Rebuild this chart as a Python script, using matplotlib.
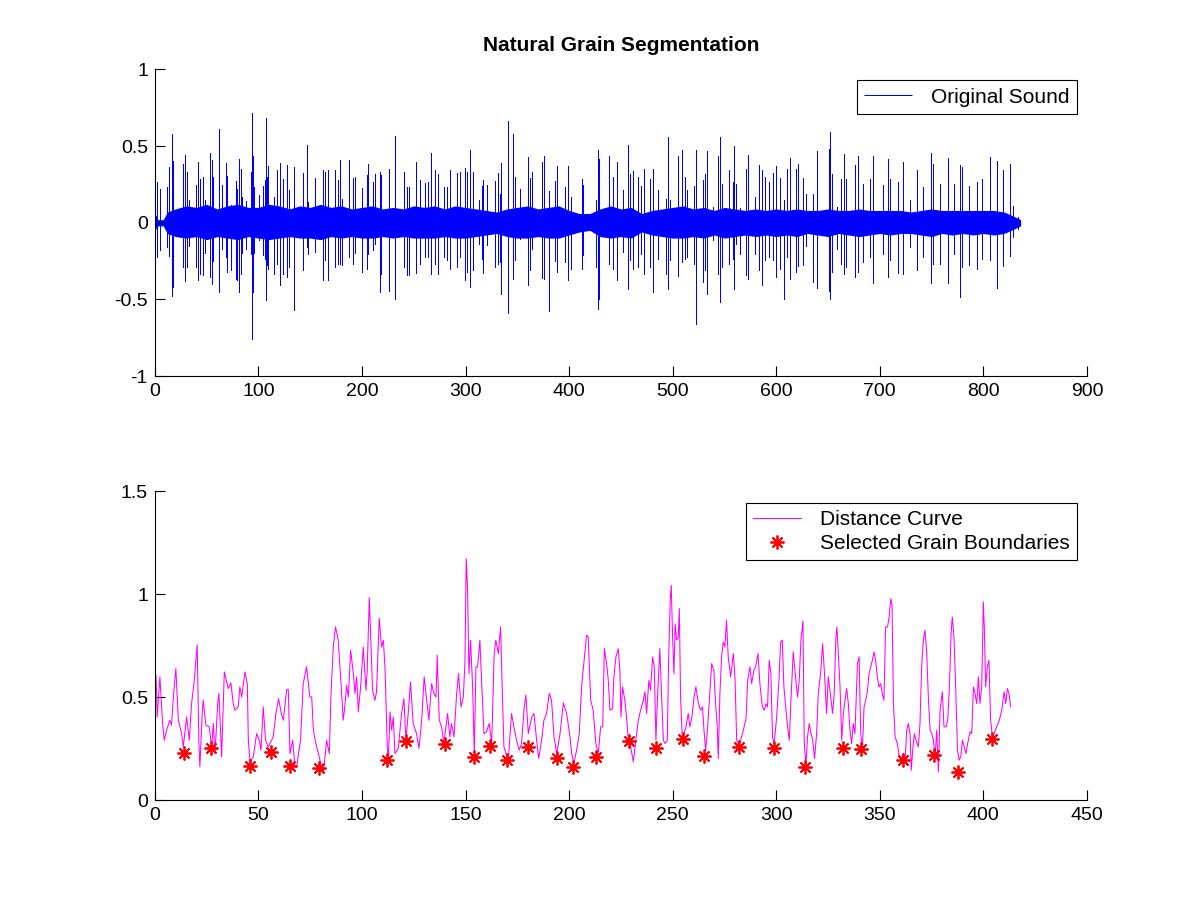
import matplotlib
matplotlib.use("Agg")
import matplotlib.pyplot as plt

plt.rcParams['font.family'] = ['Liberation Sans', 'DejaVu Sans']
plt.rcParams['font.size'] = 14

band_x = [0, 3, 8, 12, 20, 30, 40, 50, 60, 70, 80, 90, 100, 110, 120, 130, 140,
          150, 160, 170, 180, 190, 200, 210, 220, 230, 240, 250, 260, 270, 280,
          290, 300, 310, 320, 330, 340, 350, 360, 370, 380, 390, 400, 410, 420,
          430, 440, 450, 460, 470, 480, 490, 500, 510, 520, 530, 540, 550, 560,
          570, 580, 590, 600, 610, 620, 630, 640, 650, 660, 670, 680, 690, 700,
          710, 720, 730, 740, 750, 760, 770, 780, 790, 800, 810, 820, 830, 836]
band_hi = [0.06, 0.02, 0.02, 0.07, 0.09, 0.11, 0.10, 0.12, 0.09, 0.11, 0.12,
           0.10, 0.10, 0.12, 0.11, 0.09, 0.11, 0.10, 0.12, 0.10, 0.11, 0.09,
           0.10, 0.11, 0.09, 0.10, 0.09, 0.11, 0.10, 0.11, 0.09, 0.11, 0.10,
           0.09, 0.08, 0.07, 0.09, 0.10, 0.11, 0.09, 0.10, 0.11, 0.08, 0.06,
           0.06, 0.09, 0.11, 0.09, 0.10, 0.06, 0.08, 0.09, 0.10, 0.11, 0.09,
           0.10, 0.08, 0.10, 0.09, 0.08, 0.09, 0.08, 0.09, 0.08, 0.09, 0.08,
           0.08, 0.09, 0.08, 0.08, 0.09, 0.08, 0.08, 0.08, 0.08, 0.07, 0.08,
           0.09, 0.08, 0.08, 0.08, 0.08, 0.08, 0.08, 0.07, 0.04, 0.02]
band_lo = [-0.05, -0.02, -0.02, -0.07, -0.09, -0.10, -0.09, -0.11, -0.09,
           -0.10, -0.11, -0.09, -0.10, -0.11, -0.10, -0.09, -0.10, -0.10,
           -0.11, -0.09, -0.10, -0.09, -0.10, -0.10, -0.09, -0.10, -0.09,
           -0.10, -0.10, -0.10, -0.09, -0.10, -0.10, -0.09, -0.08, -0.07,
           -0.09, -0.10, -0.10, -0.09, -0.10, -0.10, -0.08, -0.06, -0.05,
           -0.09, -0.10, -0.09, -0.10, -0.06, -0.08, -0.09, -0.10, -0.10,
           -0.09, -0.10, -0.08, -0.10, -0.09, -0.08, -0.09, -0.08, -0.09,
           -0.08, -0.09, -0.07, -0.08, -0.09, -0.07, -0.08, -0.09, -0.08,
           -0.07, -0.08, -0.07, -0.07, -0.08, -0.09, -0.07, -0.08, -0.07,
           -0.08, -0.07, -0.08, -0.07, -0.04, -0.02]

spike_x = [1.6, 4.8, 11.9, 13.8, 16.7, 17.7, 27.4, 29.3, 31.2, 33.1, 39.6, 41.8,
           43.4, 46.0, 48.3, 53.1, 55.0, 56.3, 62.1, 64.4, 68.2, 69.8, 73.4,
           77.9, 79.5, 81.1, 82.7, 83.7, 87.5, 92.4, 94.0, 95.0, 95.9, 100.7,
           104.6, 106.2, 107.5, 108.5, 109.4, 114.9, 118.1, 121.0, 123.9, 127.1,
           129.7, 134.2, 142.6, 146.4, 148.0, 154.2, 162.5, 164.1, 167.4, 174.1,
           177.0, 178.6, 180.9, 187.6, 190.9, 192.8, 199.9, 204.4, 206.0, 210.2,
           212.4, 217.2, 218.5, 225.6, 232.0, 240.4, 243.0, 245.6, 252.3, 255.9,
           260.4, 263.9, 266.2, 270.4, 273.6, 279.0, 281.6, 284.9, 291.9, 294.5,
           299.3, 301.0, 304.2, 307.4, 313.2, 315.4, 317.0, 320.3, 328.3, 331.5,
           333.1, 334.4, 341.2, 346.0, 347.6, 352.4, 360.5, 362.1, 363.7, 373.4,
           375.6, 380.8, 386.2, 388.5, 395.9, 399.1, 401.4, 412.0, 413.6, 425.8,
           428.1, 429.0, 438.7, 442.6, 445.8, 452.2, 457.0, 458.7, 461.9, 466.7,
           469.3, 472.2, 478.0, 481.2, 485.4, 493.1, 495.0, 497.3, 505.3, 509.2,
           511.8, 513.4, 520.4, 522.7, 528.8, 531.1, 532.7, 538.5, 544.0, 545.6,
           547.2, 554.6, 557.8, 559.1, 561.6, 564.9, 570.7, 572.9, 579.3, 583.5,
           586.4, 589.0, 593.2, 597.0, 599.6, 604.1, 607.7, 610.6, 613.5, 618.9,
           621.2, 626.0, 629.2, 635.7, 639.8, 650.5, 652.1, 653.4, 658.2, 663.0,
           665.6, 667.8, 676.5, 679.4, 683.9, 690.4, 693.6, 703.3, 708.1, 709.7,
           717.7, 722.2, 729.0, 736.1, 741.9, 749.9, 751.5, 758.0, 766.0, 771.5,
           777.3, 778.9, 786.3, 793.4, 798.9, 806.2, 812.7, 819.1, 826.2, 828.8,
           833.6]
spike_hi = [0.266, 0.223, 0.233, 0.364, 0.581, 0.400, 0.385, 0.440, 0.331, 0.150,
            0.244, 0.396, 0.283, 0.298, 0.147, 0.455, 0.407, 0.298, 0.609, 0.244,
            0.390, 0.303, 0.114, 0.270, 0.223, 0.414, 0.353, 0.168, 0.142, 0.331,
            0.715, 0.433, 0.233, 0.179, 0.238, 0.277, 0.683, 0.299, 0.368, 0.168,
            0.342, 0.390, 0.288, 0.375, 0.212, 0.364, 0.325, 0.505, 0.136, 0.292,
            0.342, 0.331, 0.342, 0.342, 0.281, 0.407, 0.158, 0.407, 0.294, 0.299,
            0.229, 0.309, 0.385, 0.266, 0.320, 0.331, 0.309, 0.353, 0.563, 0.331,
            0.233, 0.233, 0.394, 0.277, 0.259, 0.266, 0.457, 0.342, 0.320, 0.233,
            0.233, 0.346, 0.325, 0.331, 0.359, 0.331, 0.472, 0.331, 0.147, 0.238,
            0.281, 0.244, 0.272, 0.325, 0.190, 0.390, 0.663, 0.577, 0.299, 0.223,
            0.429, 0.294, 0.331, 0.396, 0.435, 0.207, 0.270, 0.368, 0.233, 0.368,
            0.168, 0.288, 0.244, 0.147, 0.472, 0.418, 0.433, 0.299, 0.396, 0.216,
            0.505, 0.320, 0.338, 0.299, 0.238, 0.353, 0.288, 0.348, 0.216, 0.157,
            0.559, 0.147, 0.433, 0.477, 0.299, 0.212, 0.240, 0.472, 0.281, 0.320,
            0.468, 0.103, 0.433, 0.559, 0.255, 0.346, 0.266, 0.498, 0.255, 0.099,
            0.353, 0.440, 0.168, 0.375, 0.346, 0.299, 0.266, 0.325, 0.368, 0.294,
            0.147, 0.353, 0.422, 0.353, 0.385, 0.292, 0.190, 0.190, 0.466, 0.479,
            0.592, 0.316, 0.103, 0.288, 0.446, 0.288, 0.375, 0.433, 0.255, 0.288,
            0.433, 0.244, 0.418, 0.288, 0.266, 0.396, 0.147, 0.346, 0.233, 0.455,
            0.385, 0.255, 0.424, 0.255, 0.375, 0.364, 0.238, 0.266, 0.288, 0.429,
            0.400, 0.342, 0.381, 0.107, 0.038]
spike_lo = [-0.222, -0.179, -0.157, -0.218, -0.479, -0.418, -0.288, -0.381,
            -0.288, -0.153, -0.288, -0.375, -0.336, -0.342, -0.200, -0.353,
            -0.396, -0.250, -0.451, -0.168, -0.222, -0.320, -0.309, -0.364,
            -0.370, -0.451, -0.331, -0.200, -0.168, -0.201, -0.757, -0.451,
            -0.200, -0.114, -0.212, -0.233, -0.505, -0.277, -0.299, -0.331,
            -0.266, -0.407, -0.331, -0.353, -0.288, -0.570, -0.309, -0.157,
            -0.201, -0.190, -0.375, -0.244, -0.375, -0.288, -0.266, -0.266,
            -0.277, -0.222, -0.266, -0.200, -0.320, -0.299, -0.201, -0.179,
            -0.136, -0.451, -0.331, -0.446, -0.496, -0.288, -0.342, -0.342,
            -0.327, -0.266, -0.222, -0.222, -0.331, -0.266, -0.331, -0.222,
            -0.244, -0.299, -0.288, -0.222, -0.375, -0.320, -0.418, -0.309,
            -0.136, -0.233, -0.327, -0.147, -0.288, -0.266, -0.255, -0.462,
            -0.587, -0.368, -0.244, -0.103, -0.403, -0.309, -0.168, -0.359,
            -0.364, -0.574, -0.251, -0.320, -0.255, -0.375, -0.299, -0.299,
            -0.212, -0.288, -0.564, -0.500, -0.266, -0.299, -0.375, -0.190,
            -0.431, -0.244, -0.299, -0.288, -0.201, -0.331, -0.288, -0.451,
            -0.233, -0.331, -0.429, -0.244, -0.349, -0.255, -0.233, -0.222,
            -0.266, -0.663, -0.385, -0.309, -0.462, -0.114, -0.331, -0.516,
            -0.288, -0.266, -0.233, -0.429, -0.136, -0.201, -0.342, -0.364,
            -0.201, -0.309, -0.403, -0.244, -0.222, -0.240, -0.353, -0.299,
            -0.496, -0.222, -0.364, -0.320, -0.283, -0.277, -0.153, -0.385,
            -0.425, -0.444, -0.496, -0.320, -0.168, -0.266, -0.331, -0.288,
            -0.353, -0.320, -0.255, -0.222, -0.392, -0.201, -0.353, -0.244,
            -0.327, -0.331, -0.157, -0.305, -0.222, -0.392, -0.266, -0.266,
            -0.392, -0.201, -0.483, -0.288, -0.277, -0.299, -0.233, -0.244,
            -0.425, -0.281, -0.214, -0.092, -0.038]

# ---- bottom: distance curve and selected grain boundaries ----
dist_x = [0.0, 0.5, 1.1, 2.4, 3.7, 4.5, 5.6, 7.2, 8.0, 8.9, 10.1, 11.3, 12.9,
          13.7, 15.3, 16.6, 17.7, 19.0, 20.4, 21.2, 21.7, 22.9, 23.3, 24.6, 26.2,
          27.4, 28.2, 29.0, 30.3, 30.9, 32.2, 33.5, 35.4, 36.7, 37.8, 38.6, 40.2,
          41.0, 41.9, 43.5, 44.6, 45.1, 45.9, 47.5, 49.1, 50.4, 51.2, 52.3, 53.4,
          54.7, 57.1, 58.4, 59.7, 61.2, 62.0, 63.6, 64.4, 65.2, 66.5, 67.6, 68.4,
          70.3, 71.6, 73.2, 74.8, 75.7, 76.5, 77.7, 78.9, 81.3, 82.1, 82.9, 84.2,
          85.0, 86.1, 87.2, 88.5, 89.6, 90.9, 91.4, 92.6, 93.4, 94.5, 95.8, 96.6,
          97.4, 98.2, 99.3, 100.6, 101.9, 102.5, 103.5, 104.3, 105.1, 106.2,
          107.0, 108.3,
          109.4, 110.3, 111.1, 111.5, 112.2, 112.7, 113.5, 114.3, 115.1, 115.9,
          117.5, 119.1, 120.2, 121.2, 122.3, 123.4, 124.7, 126.3, 127.5, 128.8,
          130.0, 131.2, 132.3, 133.6, 134.7, 135.7, 136.3, 137.3, 138.4, 139.5,
          140.5, 141.3, 142.4, 143.2, 144.4, 145.7, 146.6, 147.8, 148.9, 149.7,
          150.3, 151.0, 151.6, 152.4, 153.4, 154.2, 155.0, 155.8, 156.9, 157.7,
          158.9, 160.1, 161.4, 162.6, 163.8, 164.6, 165.8, 166.9, 167.4, 168.5,
          169.5, 170.6, 172.2, 173.3, 174.6, 175.9, 177.0, 178.2, 179.1, 180.3,
          181.9, 183.0, 184.3, 185.3, 186.7, 187.8, 189.1, 190.4, 191.5, 192.7,
          194.0, 195.6, 197.2, 198.8, 200.4, 201.2, 202.3, 203.6, 204.9, 206.0,
          207.1, 208.4, 209.2, 210.4, 211.6, 212.9, 214.1, 215.2, 216.2, 217.0,
          218.1, 218.9,
          219.7, 221.0, 221.6, 222.6, 223.7, 224.5, 225.0, 225.8, 226.9, 227.7,
          228.6, 229.7, 231.0, 232.2, 233.4, 234.5, 235.8, 236.6, 237.4, 238.5,
          239.3, 240.3, 241.1, 241.9, 242.6, 243.8, 244.6, 245.5, 246.3, 247.4,
          248.0, 248.8, 249.3, 249.9, 250.6, 251.2, 251.9, 252.7, 253.2, 253.8,
          254.6, 255.4, 256.4, 257.5, 258.3, 259.3, 260.3, 261.2, 262.4, 263.5,
          264.4, 265.1, 265.9, 266.9, 268.0, 268.8, 269.9, 270.7, 271.5, 272.0,
          272.8, 273.6, 274.4, 275.2, 276.0, 276.8, 278.0, 279.3, 280.1, 280.9,
          281.7, 282.8, 284.1, 285.4, 286.2, 287.3, 288.1, 289.2, 290.0, 291.2,
          292.1, 293.3, 294.2, 295.0, 295.8, 296.6, 297.4, 298.2, 299.0, 300.2,
          301.3, 302.1, 302.9, 303.7, 304.7, 305.5, 306.3, 307.1, 308.2, 309.3,
          310.3, 311.1, 311.9, 312.9, 313.5, 314.3, 315.1, 315.9, 316.8, 317.6,
          318.5, 319.5, 320.3, 321.4, 322.4, 323.2, 324.3, 325.1, 326.3, 327.2,
          328.0, 328.8, 329.3,
          330.8, 331.6, 332.4, 333.2, 334.0, 334.8, 335.6, 336.4, 337.2, 338.0,
          339.2, 340.0, 340.8, 341.6, 342.4, 343.2, 344.0, 344.8, 345.6, 346.4,
          347.2, 348.0, 348.8, 349.6, 350.4, 351.2, 352.0, 352.8, 353.7, 354.5,
          355.3, 355.9, 356.6, 357.4, 358.5, 359.4, 360.3, 361.4, 362.2, 363.0,
          363.8, 364.6, 365.2, 366.0, 366.7, 367.5, 368.6, 369.4, 370.2, 371.0,
          371.8, 372.6, 373.5, 374.3, 375.1, 375.9, 376.7, 377.5, 378.3, 379.1,
          380.2, 381.0, 382.0, 382.8, 383.6, 384.4, 385.0, 385.8, 386.6, 387.5,
          388.3, 389.1, 389.9, 390.7, 391.6, 392.4, 393.6, 394.4, 395.2, 396.0,
          396.8, 397.6, 398.4, 399.2, 400.0, 400.5, 401.1, 401.9, 402.7, 403.5,
          404.4, 405.2, 406.4, 407.7, 408.9, 410.0, 410.8, 411.6, 412.4, 413.2]
dist_y = [0.44, 0.607, 0.404, 0.599, 0.372, 0.291, 0.340, 0.388, 0.364, 0.501,
          0.639, 0.388, 0.323, 0.259, 0.404, 0.291, 0.469, 0.582, 0.755, 0.291,
          0.162, 0.437, 0.485, 0.364, 0.356, 0.259, 0.372, 0.226, 0.469, 0.518,
          0.210, 0.623, 0.542, 0.569, 0.469, 0.437, 0.453, 0.550, 0.501, 0.623,
          0.566, 0.291, 0.186, 0.210, 0.323, 0.291, 0.243, 0.453, 0.291, 0.259,
          0.307, 0.421, 0.493, 0.412, 0.388, 0.537, 0.537, 0.226, 0.291, 0.162,
          0.162, 0.291, 0.566, 0.647, 0.501, 0.501, 0.340, 0.275, 0.226, 0.129,
          0.210, 0.291, 0.226, 0.510, 0.744, 0.841, 0.777, 0.607, 0.388, 0.429,
          0.558, 0.501, 0.728, 0.615, 0.518, 0.599, 0.429, 0.550, 0.744, 0.534,
          0.631, 0.984, 0.760, 0.534, 0.485, 0.526, 0.885,
          0.744, 0.777, 0.639, 0.501, 0.259, 0.194, 0.429, 0.340, 0.404, 0.226,
          0.251, 0.421, 0.493, 0.291, 0.421, 0.574, 0.372, 0.323, 0.251, 0.388,
          0.599, 0.485, 0.388, 0.566, 0.518, 0.501, 0.704, 0.388, 0.356, 0.275,
          0.356, 0.421, 0.307, 0.372, 0.307, 0.518, 0.615, 0.453, 0.501, 0.671,
          1.173, 1.011, 0.615, 0.777, 0.550, 0.226, 0.647, 0.647, 0.777, 0.582,
          0.323, 0.332, 0.372, 0.275, 0.712, 0.777, 0.712, 0.841, 0.647, 0.259,
          0.226, 0.194, 0.421, 0.356, 0.291, 0.243, 0.275, 0.437, 0.510, 0.323,
          0.404, 0.421, 0.291, 0.202, 0.291, 0.388, 0.421, 0.518, 0.485, 0.307,
          0.226, 0.323, 0.472, 0.421, 0.307, 0.226, 0.178, 0.243, 0.323, 0.550,
          0.663, 0.801, 0.793, 0.485, 0.437, 0.275, 0.226, 0.356, 0.356, 0.736,
          0.663, 0.582,
          0.437, 0.445, 0.599, 0.696, 0.736, 0.631, 0.404, 0.550, 0.485, 0.404,
          0.291, 0.259, 0.186, 0.291, 0.388, 0.437, 0.485, 0.526, 0.421, 0.582,
          0.534, 0.696, 0.647, 0.291, 0.485, 0.736, 0.518, 0.291, 0.275, 0.291,
          0.663, 0.971, 1.044, 0.809, 0.615, 0.857, 0.777, 0.793, 0.930, 0.501,
          0.307, 0.323, 0.356, 0.421, 0.356, 0.404, 0.501, 0.550, 0.469, 0.437,
          0.453, 0.340, 0.243, 0.356, 0.534, 0.663, 0.631, 0.469, 0.356, 0.202,
          0.518, 0.696, 0.768, 0.744, 0.874, 0.696, 0.599, 0.712, 0.590, 0.291,
          0.275, 0.291, 0.340, 0.396, 0.582, 0.647, 0.566, 0.631, 0.647, 0.712,
          0.566, 0.453, 0.437, 0.469, 0.453, 0.679, 0.615, 0.307, 0.275, 0.404,
          0.582, 0.768, 0.777, 0.550, 0.437, 0.356, 0.291, 0.485, 0.720, 0.599,
          0.501, 0.582, 0.777, 0.870, 0.291, 0.162, 0.307, 0.372, 0.323, 0.291,
          0.202, 0.323, 0.518, 0.615, 0.760, 0.631, 0.421, 0.599, 0.501, 0.421,
          0.518, 0.793, 0.841,
          0.550, 0.291, 0.421, 0.485, 0.542, 0.469, 0.340, 0.275, 0.372, 0.323,
          0.663, 0.696, 0.323, 0.243, 0.453, 0.485, 0.526, 0.615, 0.647, 0.679,
          0.720, 0.679, 0.599, 0.550, 0.566, 0.518, 0.485, 0.841, 0.841, 0.890,
          0.979, 0.946, 0.469, 0.307, 0.275, 0.210, 0.194, 0.226, 0.194, 0.340,
          0.372, 0.323, 0.145, 0.259, 0.323, 0.291, 0.259, 0.372, 0.647, 0.777,
          0.825, 0.728, 0.485, 0.340, 0.323, 0.291, 0.210, 0.340, 0.137, 0.437,
          0.526, 0.356, 0.356, 0.388, 0.550, 0.809, 0.890, 0.793, 0.566, 0.243,
          0.194, 0.210, 0.291, 0.259, 0.226, 0.275, 0.332, 0.323, 0.550, 0.518,
          0.469, 0.599, 0.469, 0.550, 0.963, 0.825, 0.550, 0.647, 0.679, 0.388,
          0.307, 0.323, 0.356, 0.388, 0.437, 0.526, 0.469, 0.542, 0.518, 0.453]

boundary_x = [14, 27, 46, 56, 65, 79, 112, 121, 140, 154, 162, 170, 180, 194,
              202, 213, 229, 242, 255, 265, 282, 299, 314, 332, 341, 361, 376,
              388, 404]
boundary_y = [0.231, 0.255, 0.165, 0.234, 0.168, 0.154, 0.194, 0.285, 0.272,
              0.210, 0.262, 0.194, 0.256, 0.204, 0.162, 0.210, 0.288, 0.252,
              0.296, 0.213, 0.259, 0.252, 0.162, 0.254, 0.247, 0.197, 0.218,
              0.137, 0.296]


def style_axes(ax):
    for side in ('top', 'right'):
        ax.spines[side].set_visible(False)
    for side in ('left', 'bottom'):
        ax.spines[side].set_linewidth(0.8)
    ax.tick_params(direction='in', length=7, width=0.8, labelsize=14, pad=5)


def add_legend(ax):
    leg = ax.legend(loc='upper right', bbox_to_anchor=(0.989, 0.964),
                    borderaxespad=0, fancybox=False, edgecolor='black',
                    framealpha=1, handlelength=2.3, handletextpad=0.9,
                    borderpad=0.35, labelspacing=0.25, fontsize=15)
    leg.get_frame().set_linewidth(0.8)
    return leg


fig = plt.figure(figsize=(12.01, 9), dpi=100)

ax1 = fig.add_axes([0.129, 0.582, 0.776, 0.341])
ax1.fill_between(band_x, band_lo, band_hi, color='blue', linewidth=0)
ax1.vlines(spike_x, spike_lo, spike_hi, colors='blue', linewidth=0.72,
           antialiased=False, label='Original Sound')
ax1.set_xlim(0, 900)
ax1.set_ylim(-1, 1)
ax1.set_xticks(range(0, 901, 100))
ax1.set_yticks([-1, -0.5, 0, 0.5, 1])
ax1.set_yticklabels(['-1', '-0.5', '0', '0.5', '1'])
style_axes(ax1)
ax1.set_title('Natural Grain Segmentation', fontsize=15, fontweight='bold', pad=13)
add_legend(ax1)

ax2 = fig.add_axes([0.129, 0.111, 0.776, 0.343])
ax2.plot(dist_x, dist_y, color='#ff00ff', linewidth=0.75, label='Distance Curve')
ax2.plot(boundary_x, boundary_y, linestyle='none', marker=(8, 2, 0),
         markersize=10, markeredgewidth=1.3, color='red',
         label='Selected Grain Boundaries')
ax2.set_xlim(0, 450)
ax2.set_ylim(0, 1.5)
ax2.set_xticks(range(0, 451, 50))
ax2.set_yticks([0, 0.5, 1, 1.5])
ax2.set_yticklabels(['0', '0.5', '1', '1.5'])
style_axes(ax2)
add_legend(ax2)

fig.savefig('out.png', dpi=100)
